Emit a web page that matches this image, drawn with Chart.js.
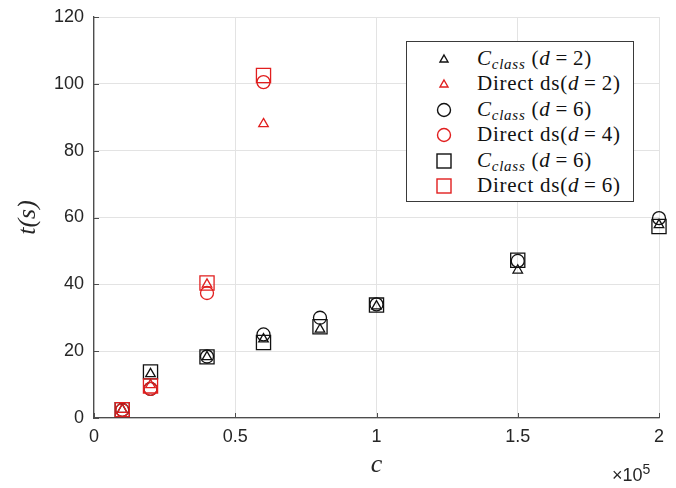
<!DOCTYPE html>
<html>
<head>
<meta charset="utf-8">
<script src="https://cdn.jsdelivr.net/npm/chart.js@4/dist/chart.umd.min.js"></script>
<style>
  body { margin: 0; background: #fff; }
  #wrap { position: relative; width: 676px; height: 488px; }
  #legend {
    position: absolute; left: 406px; top: 41px; width: 228px; height: 161px;
    box-sizing: border-box; border: 1px solid #3a3a3a; background: #fff;
    padding-top: 4px; font-family: "Liberation Serif", serif; font-size: 21px; color: #111;
    letter-spacing: 0.75px;
  }
  .row { position: relative; height: 25.4px; line-height: 25.4px; white-space: nowrap; }
  .row svg { position: absolute; left: 27px; top: 3px; }
  .row span.txt { position: absolute; left: 70px; top: 0; }
  .row i { font-style: italic; }
  .row sub { font-size: 15px; font-style: italic; vertical-align: -4px; line-height: 0; }
  #exp {
    position: absolute; left: 612px; top: 465px; font-family: "Liberation Sans", Arial, sans-serif;
    font-size: 18px; color: #262626;
  }
  #exp sup { font-size: 14px; vertical-align: 7px; line-height: 0; }
</style>
</head>
<body>
<div id="wrap">
  <canvas id="graph"></canvas>
  <div id="legend">
    <div class="row"><svg width="20" height="20"><polygon points="10,6 14,13 6,13" fill="none" stroke="#111" stroke-width="1.4"/></svg><span class="txt"><i>C</i><sub>class</sub> (<i>d</i>&thinsp;=&thinsp;2)</span></div>
    <div class="row"><svg width="20" height="20"><polygon points="10,6 14,13 6,13" fill="none" stroke="#e11f1f" stroke-width="1.4"/></svg><span class="txt">Direct ds(<i>d</i>&thinsp;=&thinsp;2)</span></div>
    <div class="row"><svg width="20" height="20"><circle cx="10" cy="10" r="6.5" fill="none" stroke="#111" stroke-width="1.4"/></svg><span class="txt"><i>C</i><sub>class</sub> (<i>d</i>&thinsp;=&thinsp;6)</span></div>
    <div class="row"><svg width="20" height="20"><circle cx="10" cy="10" r="6.5" fill="none" stroke="#e11f1f" stroke-width="1.4"/></svg><span class="txt">Direct ds(<i>d</i>&thinsp;=&thinsp;4)</span></div>
    <div class="row"><svg width="20" height="20"><rect x="3" y="3" width="14" height="14" fill="none" stroke="#111" stroke-width="1.4"/></svg><span class="txt"><i>C</i><sub>class</sub> (<i>d</i>&thinsp;=&thinsp;6)</span></div>
    <div class="row"><svg width="20" height="20"><rect x="3" y="3" width="14" height="14" fill="none" stroke="#e11f1f" stroke-width="1.4"/></svg><span class="txt">Direct ds(<i>d</i>&thinsp;=&thinsp;6)</span></div>
  </div>
  <div id="exp">×10<sup>5</sup></div>
</div>
<script>
"use strict";

// problem sizes c
const cAll = [10000, 20000, 40000, 60000, 80000, 100000, 150000, 200000];
const cDirect = [10000, 20000, 40000, 60000];

// times t(s)
const classD2 = [2.5, 13.2, 18.3, 23.6, 26.5, 33.5, 44.2, 57.8];
const classD6Circle = [2.4, 8.7, 18.4, 25.0, 30.0, 34.0, 47.0, 59.8];
const classD6Square = [2.5, 13.8, 18.3, 22.6, 27.3, 33.8, 47.2, 57.3];
const directD2 = [2.5, 9.9, 40.0, 88.0];
const directD4 = [2.4, 8.7, 37.4, 100.5];
const directD6 = [2.5, 9.6, 40.4, 102.5];

const xTickLabels = ["0", "0.5", "1", "1.5", "2"];
const yTickLabels = ["0", "20", "40", "60", "80", "100", "120"];

const black = "#111111";
const red = "#e11f1f";

function pts(xs, ys) {
  return ys.map((y, i) => ({ x: xs[i], y: y }));
}

document.addEventListener("DOMContentLoaded", () => {
  const ctx = document.getElementById("graph").getContext("2d");

  const inwardTicks = {
    id: "inwardTicks",
    afterDatasetsDraw(chart) {
      const { ctx, scales: { x, y }, chartArea } = chart;
      ctx.save();
      ctx.strokeStyle = "#4d4d4d";
      ctx.lineWidth = 1;
      x.ticks.forEach((t) => {
        const px = Math.round(x.getPixelForValue(t.value)) + 0.5;
        ctx.beginPath();
        ctx.moveTo(px, chartArea.bottom);
        ctx.lineTo(px, chartArea.bottom - 5);
        ctx.stroke();
      });
      y.ticks.forEach((t) => {
        const py = Math.round(y.getPixelForValue(t.value)) + 0.5;
        ctx.beginPath();
        ctx.moveTo(chartArea.left, py);
        ctx.lineTo(chartArea.left + 5, py);
        ctx.stroke();
      });
      ctx.restore();
    },
  };

  function ds(label, data, color, style, radius, order) {
    return {
      label: label,
      data: data,
      showLine: false,
      clip: false,
      borderColor: color,
      backgroundColor: "rgba(0,0,0,0)",
      pointStyle: style,
      pointRadius: radius,
      pointBorderWidth: 1.3,
      order: order,
    };
  }

  new Chart(ctx, {
    type: "scatter",
    data: {
      datasets: [
        ds("C_class (d = 2)", pts(cAll, classD2), black, "triangle", 5.5, 6),
        ds("Direct ds(d = 2)", pts(cDirect, directD2), red, "triangle", 5.5, 5),
        ds("C_class (d = 6)", pts(cAll, classD6Circle), black, "circle", 6.5, 4),
        ds("Direct ds(d = 4)", pts(cDirect, directD4), red, "circle", 6.5, 3),
        ds("C_class (d = 6)", pts(cAll, classD6Square), black, "rect", 10, 2),
        ds("Direct ds(d = 6)", pts(cDirect, directD6), red, "rect", 10, 1),
      ],
    },
    plugins: [inwardTicks],
    options: {
      responsive: true,
      maintainAspectRatio: false,
      animation: false,
      events: [],
      layout: { padding: { top: 17, right: 17, left: 0, bottom: 0 } },
      plugins: { legend: { display: false }, tooltip: { enabled: false } },
      scales: {
        x: {
          type: "linear",
          min: 0,
          max: 200000,
          afterFit: (s) => {
            s.height = 70;
            s.paddingLeft = 0;
            s.paddingRight = 0;
          },
          afterBuildTicks: (s) => {
            s.ticks = xTickLabels.map((l, i) => ({ value: i * 50000 }));
          },
          ticks: {
            padding: 8,
            color: "#262626",
            font: { family: "Liberation Sans", size: 18 },
            maxRotation: 0,
            callback: (v, i) => xTickLabels[i],
          },
          grid: { color: "#e3e3e3", lineWidth: 1, drawTicks: false },
          border: { color: "#4d4d4d", width: 1.3 },
          title: {
            display: true,
            text: "c",
            color: "#262626",
            font: { family: "Liberation Serif", size: 26, style: "italic" },
            padding: { top: 0, bottom: 7 },
          },
        },
        y: {
          type: "linear",
          min: 0,
          max: 120,
          afterFit: (s) => {
            s.width = 94;
            s.paddingTop = 0;
            s.paddingBottom = 0;
          },
          afterBuildTicks: (s) => {
            s.ticks = yTickLabels.map((l) => ({ value: Number(l) }));
          },
          ticks: {
            padding: 10,
            color: "#262626",
            font: { family: "Liberation Sans", size: 18 },
            callback: (v, i) => yTickLabels[i],
          },
          grid: { color: "#e3e3e3", lineWidth: 1, drawTicks: false },
          border: { color: "#4d4d4d", width: 1.3 },
          title: {
            display: true,
            text: "t(s)",
            color: "#262626",
            font: { family: "Liberation Serif", size: 26, style: "italic" },
            padding: { top: 13, bottom: 0 },
          },
        },
      },
    },
  });
});
</script>
</body>
</html>
